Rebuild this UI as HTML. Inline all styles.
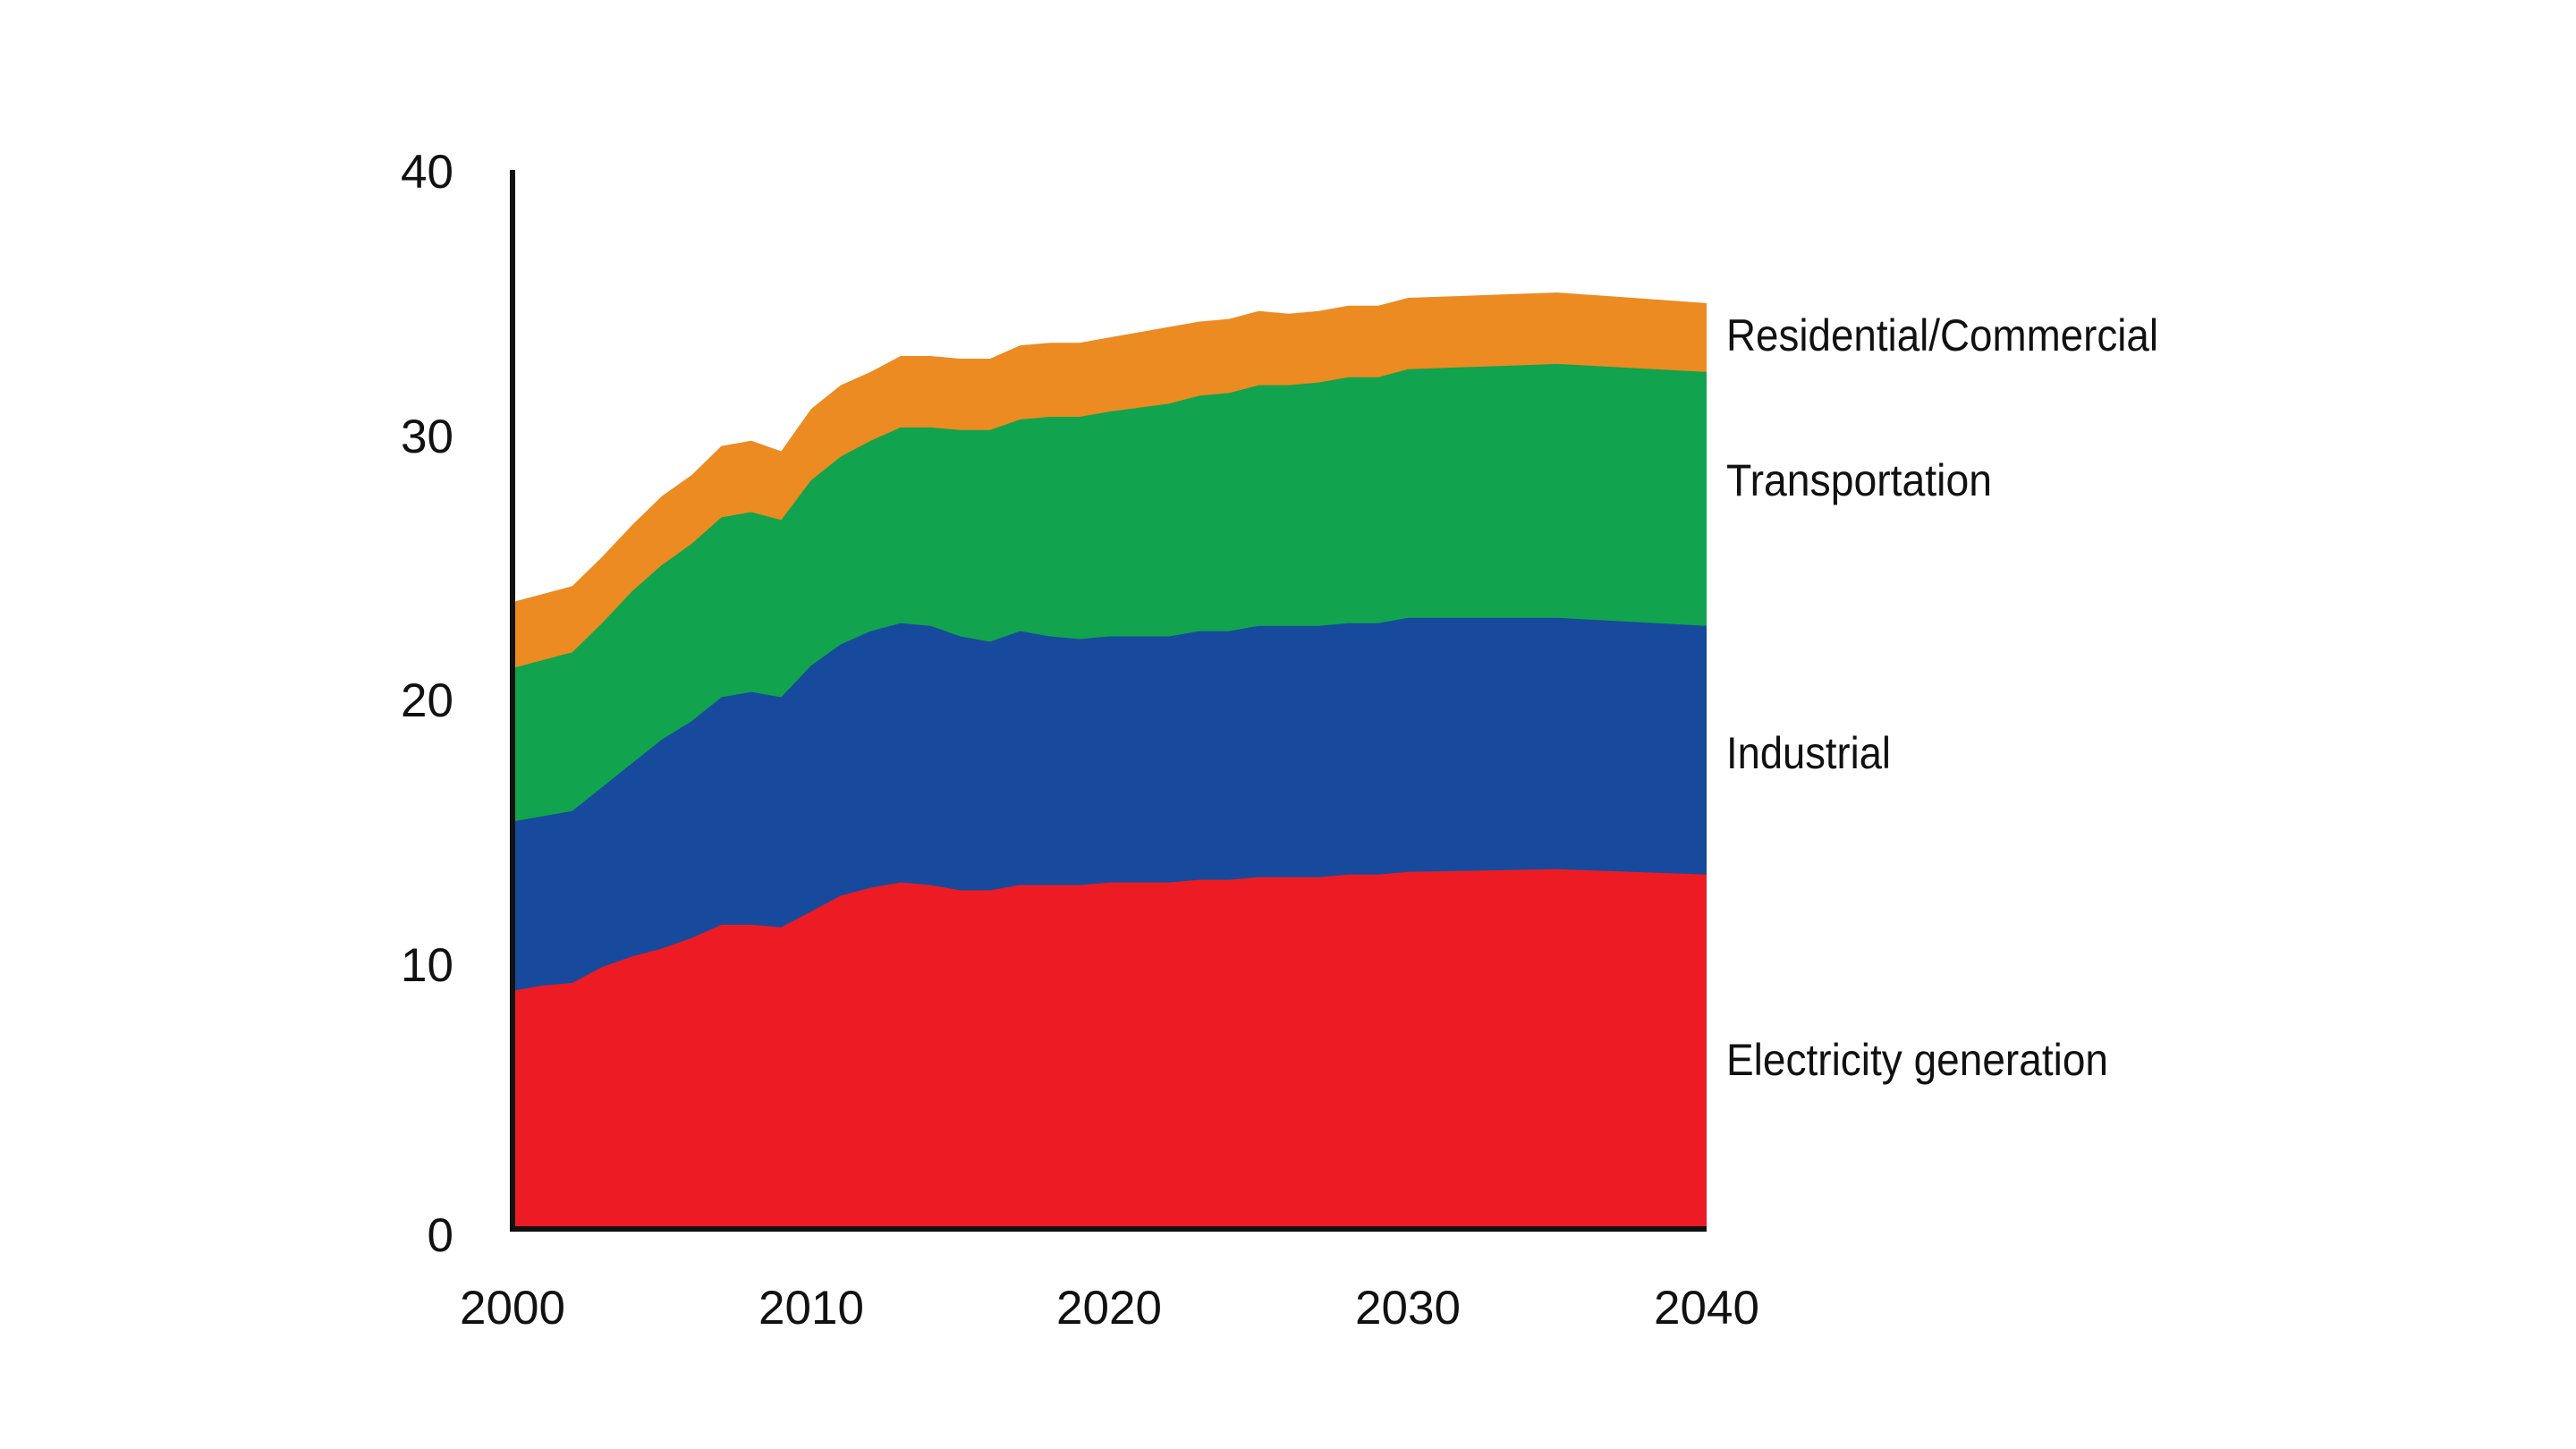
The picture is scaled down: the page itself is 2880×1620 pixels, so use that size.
<!DOCTYPE html>
<html><head><meta charset="utf-8"><style>
html,body{margin:0;padding:0;background:#fff;}
svg{display:block;}
text{font-family:"Liberation Sans",sans-serif;fill:#111;}
</style></head><body>
<svg id="c" width="2880" height="1620" viewBox="0 0 2880 1620" xmlns="http://www.w3.org/2000/svg">
<g id="areas"></g>
<line x1="573" y1="190" x2="573" y2="1377" stroke="#111" stroke-width="6"/>
<line x1="570" y1="1374" x2="1908" y2="1374" stroke="#111" stroke-width="6"/>
<g font-size="53" text-anchor="end">
<text x="507" y="210">40</text>
<text x="507" y="506">30</text>
<text x="507" y="801">20</text>
<text x="507" y="1097">10</text>
<text x="507" y="1399">0</text>
</g>
<g font-size="53" text-anchor="middle">
<text x="573" y="1480">2000</text>
<text x="907" y="1480">2010</text>
<text x="1240" y="1480">2020</text>
<text x="1574" y="1480">2030</text>
<text x="1908" y="1480">2040</text>
</g>
<g font-size="50">
<text x="1930" y="392" textLength="483" lengthAdjust="spacingAndGlyphs">Residential/Commercial</text>
<text x="1930" y="554" textLength="297" lengthAdjust="spacingAndGlyphs">Transportation</text>
<text x="1930" y="859" textLength="184" lengthAdjust="spacingAndGlyphs">Industrial</text>
<text x="1930" y="1202" textLength="427" lengthAdjust="spacingAndGlyphs">Electricity generation</text>
</g>
</svg>
<script>
var yrs=[2000,2001,2002,2003,2004,2005,2006,2007,2008,2009,2010,2011,2012,2013,2014,2015,2016,2017,2018,2019,2020,2022,2023,2024,2025,2026,2027,2028,2029,2030,2035,2040];
var el=[9.0,9.2,9.3,9.9,10.3,10.6,11.0,11.5,11.5,11.4,12.0,12.6,12.9,13.1,13.0,12.8,12.8,13.0,13.0,13.0,13.1,13.1,13.2,13.2,13.3,13.3,13.3,13.4,13.4,13.5,13.6,13.4];
var ind=[15.4,15.6,15.8,16.7,17.6,18.5,19.2,20.1,20.3,20.1,21.3,22.1,22.6,22.9,22.8,22.4,22.2,22.6,22.4,22.3,22.4,22.4,22.6,22.6,22.8,22.8,22.8,22.9,22.9,23.1,23.1,22.8];
var tr=[21.2,21.5,21.8,22.9,24.1,25.1,25.9,26.9,27.1,26.8,28.3,29.2,29.8,30.3,30.3,30.2,30.2,30.6,30.7,30.7,30.9,31.2,31.5,31.6,31.9,31.9,32.0,32.2,32.2,32.5,32.7,32.4];
var rs=[23.7,24.0,24.3,25.4,26.6,27.7,28.5,29.6,29.8,29.4,31.0,31.9,32.4,33.0,33.0,32.9,32.9,33.4,33.5,33.5,33.7,34.1,34.3,34.4,34.7,34.6,34.7,34.9,34.9,35.2,35.4,35.0];
function X(y){return 573+(y-2000)*33.375;}
function Y(v){return 1374-v*29.575;}
var layers=[[rs,"#EC8B22"],[tr,"#12A34E"],[ind,"#174A9C"],[el,"#ED1C24"]];
var g=document.getElementById("areas"),s="";
layers.forEach(function(l){
 var p="M"+X(2000)+","+Y(0);
 for(var i=0;i<yrs.length;i++)p+=" L"+X(yrs[i]).toFixed(1)+","+Y(l[0][i]).toFixed(1);
 p+=" L"+X(2040)+","+Y(0)+"Z";
 s+='<path d="'+p+'" fill="'+l[1]+'"/>';
});
g.innerHTML=s;
</script>
</body></html>
